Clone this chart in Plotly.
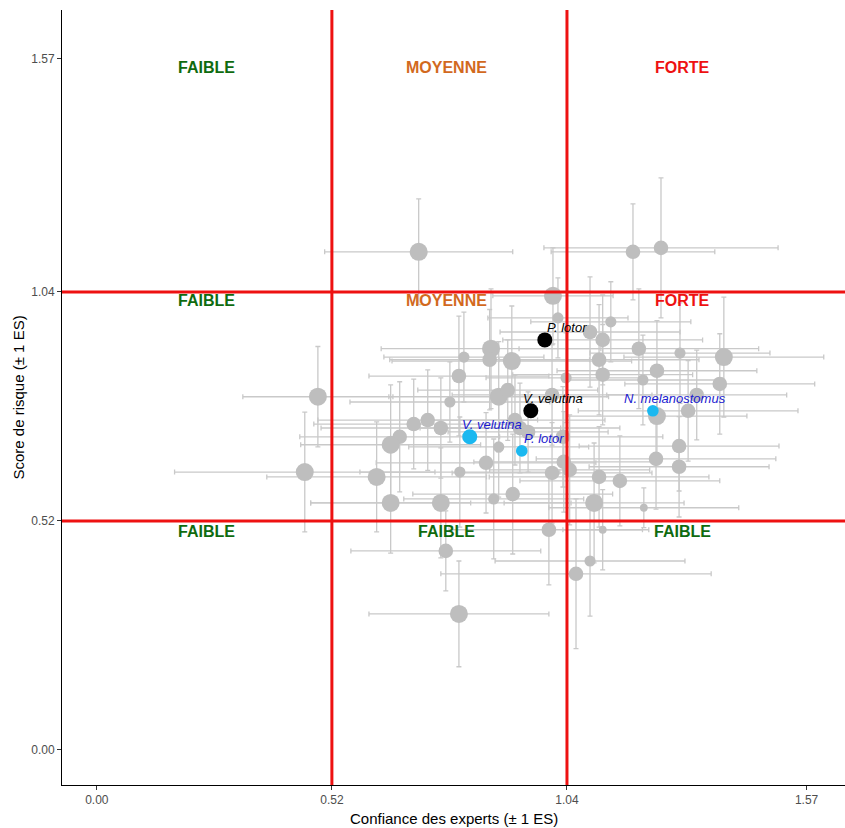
import plotly.graph_objects as go

# ---- data (gray species) ----
conf = [0.712, 1.186, 1.248, 1.009, 1.020, 1.091, 1.119, 1.137, 1.199, 1.290,
        1.387, 0.872, 0.869, 0.918, 0.812, 1.111, 1.119, 1.239, 1.208, 0.801,
        0.489, 0.781, 0.889, 0.909, 1.007, 1.038, 1.327, 1.378, 1.308, 1.239,
        0.732, 0.701, 0.761, 0.670, 0.650, 0.925, 0.936, 0.954, 1.031, 1.288,
        0.889, 0.861, 0.803, 0.460, 0.619, 1.237, 1.033, 1.046, 1.007, 1.111,
        1.288, 1.157, 0.650, 0.761, 0.878, 0.920, 1.100, 1.210, 1.000, 1.119,
        0.772, 1.091, 1.060, 0.801]
risk = [1.131, 1.131, 1.140, 1.031, 0.981, 0.949, 0.931, 0.972, 0.911, 0.901,
        0.892, 0.911, 0.886, 0.883, 0.892, 0.886, 0.852, 0.861, 0.840, 0.849,
        0.802, 0.790, 0.802, 0.817, 0.806, 0.845, 0.806, 0.831, 0.770, 0.758,
        0.749, 0.740, 0.731, 0.711, 0.693, 0.749, 0.731, 0.722, 0.711, 0.690,
        0.688, 0.652, 0.631, 0.631, 0.620, 0.661, 0.654, 0.636, 0.629, 0.620,
        0.643, 0.611, 0.561, 0.561, 0.570, 0.581, 0.561, 0.550, 0.500, 0.500,
        0.452, 0.429, 0.400, 0.309]
conf_se = [0.208, 0.181, 0.259, 0.133, 0.155, 0.199, 0.221, 0.177, 0.265, 0.199,
           0.221, 0.243, 0.221, 0.265, 0.177, 0.221, 0.199, 0.221, 0.177, 0.199,
           0.166, 0.221, 0.243, 0.199, 0.221, 0.177, 0.199, 0.210, 0.243, 0.199,
           0.243, 0.221, 0.265, 0.221, 0.199, 0.199, 0.221, 0.177, 0.221, 0.221,
           0.199, 0.243, 0.221, 0.288, 0.243, 0.265, 0.199, 0.177, 0.221, 0.243,
           0.199, 0.221, 0.177, 0.288, 0.199, 0.221, 0.199, 0.210, 0.221, 0.088,
           0.210, 0.210, 0.299, 0.199]
risk_se = [0.120, 0.109, 0.159, 0.109, 0.091, 0.125, 0.102, 0.091, 0.136, 0.114,
           0.136, 0.136, 0.114, 0.125, 0.102, 0.125, 0.114, 0.114, 0.102, 0.136,
           0.114, 0.091, 0.125, 0.114, 0.114, 0.102, 0.102, 0.114, 0.114, 0.102,
           0.114, 0.102, 0.114, 0.125, 0.136, 0.102, 0.102, 0.091, 0.114, 0.102,
           0.114, 0.114, 0.125, 0.136, 0.125, 0.114, 0.114, 0.125, 0.114, 0.114,
           0.114, 0.102, 0.114, 0.125, 0.136, 0.136, 0.136, 0.045, 0.125, 0.091,
           0.091, 0.125, 0.170, 0.120]
n_experts = [5, 4, 4, 5, 3, 4, 4, 3, 4, 3,
             5, 5, 4, 5, 3, 4, 4, 4, 3, 4,
             5, 3, 5, 4, 4, 3, 4, 4, 4, 5,
             4, 4, 4, 4, 5, 4, 4, 4, 4, 4,
             3, 4, 3, 5, 5, 4, 4, 4, 4, 4,
             4, 4, 5, 5, 3, 4, 5, 2, 4, 2,
             4, 3, 4, 5]

# ---- highlighted species ----
hl_names = ["P. lotor", "V. velutina", "V. velutina", "P. lotor", "N. melanostomus"]
hl_conf = [0.991, 0.960, 0.825, 0.940, 1.230]
hl_risk = [0.931, 0.770, 0.711, 0.679, 0.770]
hl_group = ["black", "black", "blue", "blue", "blue"]
hl_n = [5, 5, 5, 4, 4]

# ---- quadrant labels ----
q_labels = ["FAIBLE", "MOYENNE", "FORTE",
            "FAIBLE", "MOYENNE", "FORTE",
            "FAIBLE", "FAIBLE", "FAIBLE"]
q_x = [0.243, 0.774, 1.296] * 3
q_y = [1.549] * 3 + [1.020] * 3 + [0.497] * 3
q_colors = ["#0f6b0f", "#d2691e", "#ee1111",
            "#0f6b0f", "#d2691e", "#ee1111",
            "#0f6b0f", "#0f6b0f", "#0f6b0f"]

thresholds = [0.52, 1.04]
tick_vals = [0.0, 0.52, 1.04, 1.57]
tick_text = ["0.00", "0.52", "1.04", "1.57"]

# label nudge (like ggplot nudge_x / nudge_y)
NUDGE_X = 0.05
NUDGE_Y = 0.029


def size_of(n):
    return 3.4 * n + 1


fig = go.Figure()
fig.add_trace(go.Scatter(
    x=conf, y=risk, mode="markers",
    marker=dict(color="#bebebe", opacity=1, size=[size_of(n) for n in n_experts], line=dict(width=0)),
    error_x=dict(type="data", array=conf_se, color="#c9c9c9", thickness=1.3, width=2.5),
    error_y=dict(type="data", array=risk_se, color="#c9c9c9", thickness=1.3, width=2.5),
    showlegend=False, hoverinfo="skip"))

col_map = {"black": "#000000", "blue": "#1ab8f0"}
txt_map = {"black": "#000000", "blue": "#1a1ad0"}
fig.add_trace(go.Scatter(
    x=hl_conf, y=hl_risk, mode="markers",
    marker=dict(color=[col_map[g] for g in hl_group], opacity=1,
                size=[size_of(n) - 3 for n in hl_n], line=dict(width=0)),
    showlegend=False, hoverinfo="skip"))

for name, xv, yv, g in zip(hl_names, hl_conf, hl_risk, hl_group):
    fig.add_annotation(x=xv + NUDGE_X, y=yv + NUDGE_Y, text=f"<i>{name}</i>", showarrow=False,
                       xanchor="center", yanchor="middle",
                       font=dict(family="Liberation Sans, Arial", size=13, color=txt_map[g]))

for t in thresholds:
    fig.add_shape(type="line", xref="x", yref="paper", x0=t, x1=t, y0=0, y1=1,
                  line=dict(color="#ee1111", width=3))
    fig.add_shape(type="line", xref="paper", yref="y", x0=0, x1=1, y0=t, y1=t,
                  line=dict(color="#ee1111", width=3))

for lab, xv, yv, c in zip(q_labels, q_x, q_y, q_colors):
    fig.add_annotation(x=xv, y=yv, text=f"<b>{lab}</b>", showarrow=False,
                       font=dict(family="Liberation Sans, Arial", size=16, color=c))

# axis titles as annotations (fixed placement)
fig.add_annotation(xref="paper", yref="paper", x=0.5, y=0, yshift=-33, showarrow=False,
                   text="Confiance des experts (± 1 ES)", xanchor="center", yanchor="middle",
                   font=dict(family="Liberation Sans, Arial", size=15, color="#000000"))
fig.add_annotation(xref="paper", yref="paper", x=0, y=0.5, xshift=-44, showarrow=False,
                   text="Score de risque (± 1 ES)", textangle=-90, xanchor="center", yanchor="middle",
                   font=dict(family="Liberation Sans, Arial", size=15, color="#000000"))

axis_common = dict(showgrid=False, zeroline=False, showline=True, linecolor="#000000",
                   linewidth=1, ticks="outside", ticklen=4, tickcolor="#333333",
                   tickvals=tick_vals, ticktext=tick_text, automargin=False,
                   tickfont=dict(family="Liberation Sans, Arial", size=12, color="#4d4d4d"))

fig.update_layout(
    width=845, height=828,
    margin=dict(l=62, r=0, t=10, b=43),
    plot_bgcolor="white", paper_bgcolor="white",
    xaxis=dict(range=[-0.077, 1.655], **axis_common),
    yaxis=dict(range=[-0.0795, 1.68], **axis_common),
)

fig.write_html("out.html", config={"displayModeBar": False},
               post_script="document.body.style.margin='0px';document.body.style.overflow='hidden';")
